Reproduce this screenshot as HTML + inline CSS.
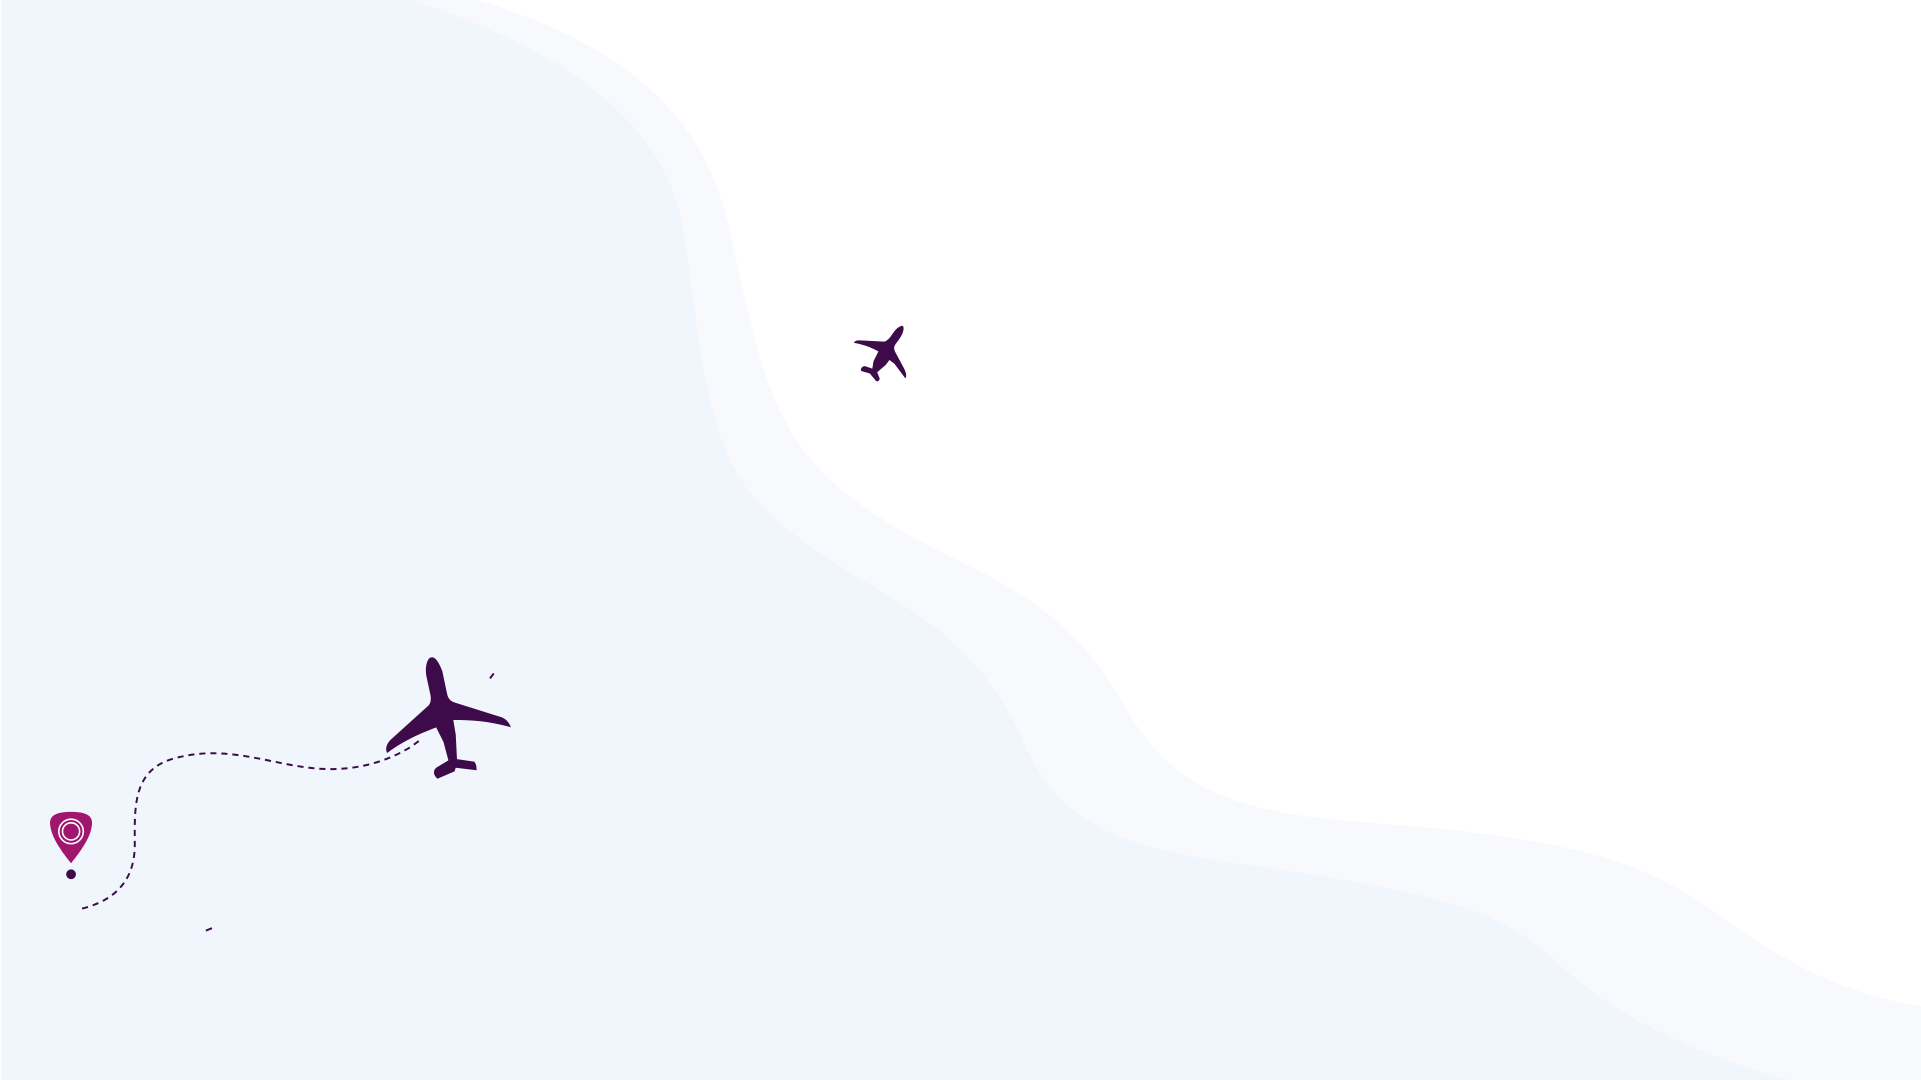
<!DOCTYPE html>
<html><head><meta charset="utf-8"><style>
html,body{margin:0;padding:0;width:1921px;height:1080px;overflow:hidden;background:#fff}
svg{display:block}
</style></head><body>
<svg width="1921" height="1080" viewBox="0 0 1568 882" preserveAspectRatio="none">
<rect x="0" y="0" width="1568" height="882" fill="#ffffff"/>
<path fill="#f7f9fd" d="M0 0 L390 0 C520 40 575 100 595 185 C620 300 630 360 700 410 C780 470 860 470 920 580 C960 650 1020 665 1120 672 C1300 685 1350 710 1400 745 C1460 790 1510 812 1568 822 L1568 882 L0 882 Z"/>
<path fill="#f1f5fc" d="M0 0 L335 0 C460 40 545 100 558 190 C575 300 575 380 640 430 C720 495 790 500 840 615 C870 680 930 695 1030 708 C1180 730 1230 745 1275 790 C1320 830 1380 860 1460 882 L0 882 Z"/>
<rect x="0" y="0" width="1" height="882" fill="#ffffff"/>
<path fill="none" stroke="#3d0a4a" stroke-width="1.6" stroke-dasharray="5,4" d="M67 742 C95 735 110 718 110 690 C110 660 108 630 140 620 C190 605 230 630 275 628 C305 627 330 615 342 605"/>
<path stroke="#3d0a4a" stroke-width="1.6" d="M168 760 L173 758"/>
<path stroke="#3d0a4a" stroke-width="1.6" d="M400 554 L403 550"/>
<g fill="#3d0a4a">
<path d="M350 538 C354 534 358 540 361 548 L365 567 C366 571 368 573 372 574 L410 586 C414 588 416 591 417 594 C400 589 385 588 370 588 L372 600 L373 620 L387 622 C389 624 389 627 389 629 L372 627 L371 630 L357 636 C354 633 353 630 356 627 L366 621 L362 606 L356 594 C340 600 326 607 316 615 C314 611 316 607 319 604 L350 576 C352 573 352 570 351 566 L348 552 C347 546 348 541 350 538 Z"/>
</g>
<g fill="#3d0a4a">
<path d="M737 266 C739 270 735 276 731 281 C729 284 730 286 731 288 L738 301 C740 305 740 308 739 309 L730 297 L726 294 L723 298 L716 304 L718 309 C718 311 716 312 715 311 L710 305 L703 303 C702 301 704 299 706 299 L712 301 L713 295 L717 287 C710 283 703 281 697 280 C698 278 700 278 702 278 L722 279 C725 278 727 275 729 272 C731 269 734 266 737 266 Z"/>
</g>
<g>
<path d="M58 663 C72 663 76 667 75 674 C74 684 66 695 58 705 C50 695 42 684 41 674 C40 667 44 663 58 663 Z" fill="#a0166e"/>
<circle cx="58" cy="679" r="10" fill="none" stroke="#fff" stroke-width="1.3"/>
<circle cx="58" cy="679" r="7" fill="none" stroke="#fff" stroke-width="1.3"/>
<circle cx="58" cy="714" r="4" fill="#3d0a4a"/>
</g>
</svg>
</body></html>
